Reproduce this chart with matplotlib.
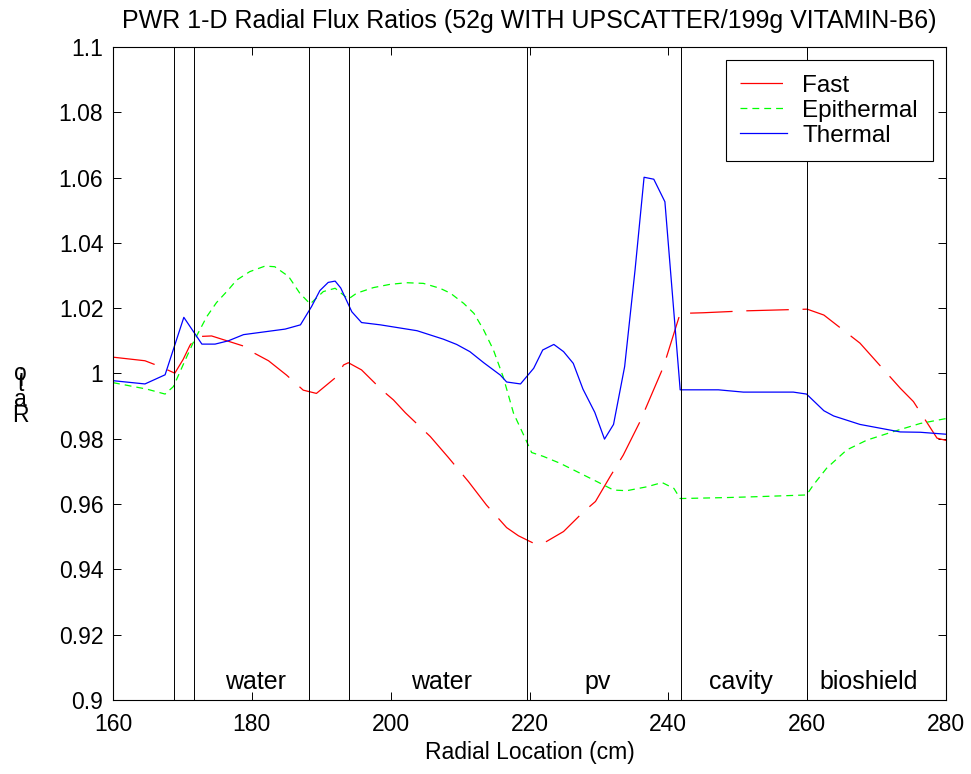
import matplotlib
matplotlib.use("Agg")
import matplotlib.pyplot as plt

plt.rcParams['font.family'] = ['Liberation Sans', 'DejaVu Sans']

# radial location (cm) / flux ratio
fast_x = [160.0, 164.6, 166.8, 168.9, 170.1, 171.1, 172.1, 174.2, 178.8, 180.2,
          182.4, 185.0, 187.4, 189.3, 192.2, 193.2, 193.9, 195.8, 198.7, 200.4,
          202.1, 205.7, 208.3, 211.2, 213.8, 216.7, 218.4, 220.6, 222.0, 224.9,
          227.8, 229.5, 231.6, 233.5, 235.9, 239.3, 241.7, 245.0, 251.3, 260.0,
          262.4, 267.6, 273.4, 275.3, 278.7, 280.0]
fast_y = [1.0050, 1.0039, 1.0021, 1.0001, 1.0043, 1.0087, 1.0113, 1.0115, 1.0084, 1.0064,
          1.0039, 0.9995, 0.9949, 0.9939, 0.9990, 1.0026, 1.0033, 1.0011, 0.9950, 0.9919,
          0.9880, 0.9807, 0.9743, 0.9669, 0.9597, 0.9528, 0.9503, 0.9480, 0.9480, 0.9516,
          0.9577, 0.9608, 0.9684, 0.9750, 0.9852, 1.0021, 1.0184, 1.0186, 1.0192, 1.0197,
          1.0179, 1.0093, 0.9955, 0.9914, 0.9802, 0.9795]

epi_x = [160.0, 164.9, 167.5, 168.7, 170.4, 171.6, 173.5, 174.9, 176.6, 177.8,
         179.7, 181.9, 183.3, 185.3, 186.9, 188.4, 190.3, 192.0, 193.9, 195.1,
         197.5, 199.9, 202.3, 204.7, 207.1, 208.6, 210.5, 212.0, 213.4, 214.8,
         216.2, 217.7, 219.6, 220.3, 222.0, 224.4, 226.3, 229.7, 232.1, 234.0,
         236.9, 239.1, 240.8, 241.7, 248.4, 253.2, 259.9, 260.9, 262.8, 265.7,
         268.6, 272.4, 276.3, 280.0]
epi_y = [0.9972, 0.9952, 0.9937, 0.9960, 1.0041, 1.0097, 1.0174, 1.0217, 1.0256, 1.0286,
         1.0312, 1.0329, 1.0327, 1.0297, 1.0246, 1.0213, 1.0251, 1.0261, 1.0228, 1.0246,
         1.0263, 1.0273, 1.0278, 1.0276, 1.0261, 1.0246, 1.0215, 1.0184, 1.0133, 1.0072,
         0.9990, 0.9878, 0.9791, 0.9758, 0.9746, 0.9725, 0.9705, 0.9669, 0.9643, 0.9641,
         0.9653, 0.9666, 0.9648, 0.9617, 0.9620, 0.9623, 0.9628, 0.9659, 0.9710, 0.9766,
         0.9796, 0.9822, 0.9847, 0.9862]

th_x = [160.0, 164.6, 167.5, 170.2, 172.8, 174.7, 176.6, 178.8, 184.8, 187.0,
        188.6, 189.8, 191.0, 192.0, 192.8, 194.4, 195.8, 198.5, 203.8, 207.6,
        209.5, 211.4, 213.4, 215.8, 216.7, 218.7, 220.6, 221.9, 223.5, 224.9,
        226.3, 227.7, 229.4, 230.8, 232.1, 233.7, 235.2, 236.5, 237.9, 239.5,
        241.7, 247.2, 250.8, 258.0, 259.9, 262.4, 263.8, 267.6, 273.4, 276.3,
        280.0]
th_y = [0.9978, 0.9968, 0.9996, 1.0172, 1.0090, 1.0090, 1.0100, 1.0119, 1.0136, 1.0149,
        1.0205, 1.0254, 1.0279, 1.0283, 1.0262, 1.0189, 1.0156, 1.0149, 1.0131, 1.0105,
        1.0089, 1.0067, 1.0033, 0.9995, 0.9974, 0.9968, 1.0016, 1.0072, 1.0089, 1.0067,
        1.0031, 0.9952, 0.9881, 0.9799, 0.9844, 1.0021, 1.0317, 1.0601, 1.0595, 1.0526,
        0.9950, 0.9950, 0.9943, 0.9943, 0.9937, 0.9886, 0.9870, 0.9844, 0.9821, 0.9820,
        0.9814]

# region boundaries and names
boundaries = [168.8, 171.6, 188.2, 194.0, 219.6, 241.8, 260.0]
region_names = ['water', 'water', 'pv', 'cavity', 'bioshield']
region_x = [180.6, 207.3, 229.8, 250.5, 268.9]

fig = plt.figure(figsize=(9.71, 7.74), dpi=100)
ax = fig.add_axes([0.1164, 0.0956, 0.8579, 0.8437])

ax.plot(fast_x, fast_y, color='#ff0000', lw=0.9, dashes=(34, 11), label='Fast')
ax.plot(epi_x, epi_y, color='#00ff00', lw=0.9, dashes=(5.5, 4), label='Epithermal')
ax.plot(th_x, th_y, color='#0000ff', lw=0.9, label='Thermal')

for b in boundaries:
    ax.axvline(b, color='black', lw=0.7)

for name, rx in zip(region_names, region_x):
    ax.text(rx, 0.9055, name, ha='center', va='center', fontsize=18)

ax.set_xlim(160, 280)
ax.set_ylim(0.9, 1.1)
ax.set_xticks(range(160, 281, 20))
ax.set_yticks([0.9 + 0.02 * i for i in range(11)])
ax.set_yticklabels(['0.9', '0.92', '0.94', '0.96', '0.98', '1',
                    '1.02', '1.04', '1.06', '1.08', '1.1'])
ax.tick_params(direction='in', top=True, right=True, length=6, width=0.7,
               labelsize=16.5)
ax.tick_params(axis='y', pad=7)
ax.tick_params(axis='x', pad=9)
for s in ax.spines.values():
    s.set_linewidth(0.8)

ax.set_xlabel('Radial Location (cm)', fontsize=16.5, labelpad=4)
ax.set_title('PWR 1-D Radial Flux Ratios (52g WITH UPSCATTER/199g VITAMIN-B6)',
             fontsize=18, pad=14)

# the y label in the reference comes out as stacked upright letters
for ch, ypx in zip('Ratio', [415, 400, 385, 379, 373]):
    fig.text(20.7 / 971, 1 - ypx / 774, ch, ha='center', va='center', fontsize=16.5)

leg = ax.legend(loc='upper right', fontsize=17.5, handlelength=1.9,
                handletextpad=0.65, borderpad=0.6, fancybox=False, framealpha=1,
                edgecolor='black', borderaxespad=0.55, labelspacing=0.12)
leg.get_frame().set_linewidth(0.8)

fig.savefig('out.png', dpi=100)
